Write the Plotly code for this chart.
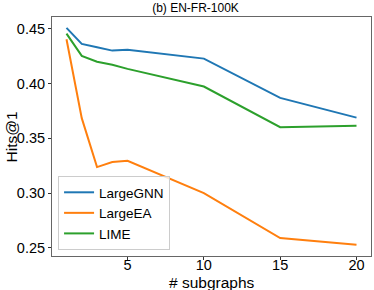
import plotly.graph_objects as go

subgraphs = [1, 2, 3, 4, 5, 10, 15, 20]
large_gnn = [0.451, 0.4363, 0.4333, 0.4302, 0.4310, 0.4229, 0.3870, 0.3690]
large_ea = [0.4406, 0.3685, 0.3238, 0.3284, 0.3296, 0.3000, 0.2590, 0.2529]
lime = [0.4457, 0.4254, 0.4200, 0.4172, 0.4135, 0.3974, 0.3603, 0.3615]

y_ticks = [0.25, 0.30, 0.35, 0.40, 0.45]
x_ticks = [5, 10, 15, 20]

font = "Liberation Sans, Arial, sans-serif"
fig = go.Figure()
for name, vals, col in [("LargeGNN", large_gnn, "#1f77b4"),
                        ("LargeEA", large_ea, "#ff7f0e"),
                        ("LIME", lime, "#2ca02c")]:
    fig.add_trace(go.Scatter(x=subgraphs, y=vals, mode="lines", name=name,
                             line=dict(color=col, width=2)))

fig.update_layout(
    width=374, height=290,
    margin=dict(l=52, r=3, t=17, b=34),
    plot_bgcolor="white", paper_bgcolor="white",
    font=dict(family=font, color="black"),
    title=dict(text="(b) EN-FR-100K", x=195.5 / 374, xanchor="center",
               y=1 - 8 / 290, yanchor="middle",
               font=dict(size=12, family=font)),
    legend=dict(x=0.019, y=0.025, xanchor="left", yanchor="bottom",
                bordercolor="#cccccc", borderwidth=1, bgcolor="rgba(255,255,255,0.8)",
                font=dict(size=13.5, family=font), tracegroupgap=0, itemwidth=30),
    showlegend=True,
    annotations=[
        dict(text="# subgraphs", xref="paper", yref="paper",
             x=(211.5 - 52) / 319, y=-(282 - 256) / 239,
             xanchor="center", yanchor="middle", showarrow=False,
             font=dict(size=15.5, family=font)),
        dict(text="Hits@1", xref="paper", yref="paper",
             x=-(52 - 10.5) / 319, y=(256 - 137) / 239, textangle=-90,
             xanchor="center", yanchor="middle", showarrow=False,
             font=dict(size=15.5, family=font)),
    ],
)
fig.update_xaxes(range=[0.05, 20.95], tickvals=x_ticks, ticks="outside", ticklen=3,
                 tickcolor="#333333", showgrid=False, zeroline=False, automargin=False,
                 showline=True, linecolor="#666666", linewidth=1, mirror=True,
                 ticklabelstandoff=-7,
                 tickfont=dict(size=14.5, family=font))
fig.update_yaxes(range=[0.2426, 0.4609], tickvals=y_ticks, tickformat=".2f",
                 ticks="outside", ticklen=3, tickcolor="#333333", showgrid=False,
                 zeroline=False, automargin=False,
                 showline=True, linecolor="#666666", linewidth=1, mirror=True,
                 tickfont=dict(size=14.5, family=font))

fig.write_html("out.html", config={"displayModeBar": False},
               post_script="document.body.style.margin='0';")
